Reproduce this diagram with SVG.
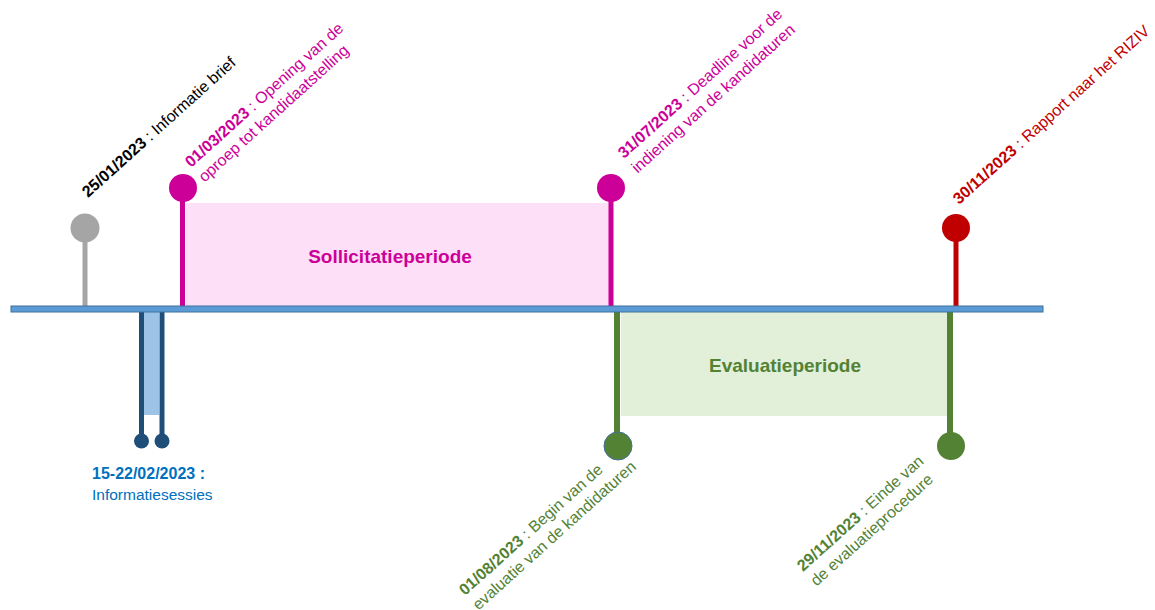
<svg xmlns="http://www.w3.org/2000/svg" width="1155" height="610" viewBox="0 0 1155 610">
<style>
text{font-family:"Liberation Sans",Arial,sans-serif}
.lbl{font-size:16px}
.b{font-weight:bold}
.mag{fill:#cc0099}
.grn{fill:#548235}
.red{fill:#c00000}
.blk{fill:#000}
.blu{fill:#0070c0}
</style>
<rect width="1155" height="610" fill="#fff"/>
<g id="periods">
<rect x="186" y="203" width="424" height="103" fill="#fde0f8"/>
<text x="390" y="263" text-anchor="middle" class="b mag" font-size="19">Sollicitatieperiode</text>
<rect x="621" y="312" width="327" height="104" fill="#e2f0d9"/>
<text x="785" y="372" text-anchor="middle" class="b grn" font-size="19">Evaluatieperiode</text>
<rect x="144" y="312" width="15" height="103" fill="#9dc3e6"/>
</g>
<g id="connectors">
<line x1="85" y1="240" x2="85" y2="306" stroke="#a5a5a5" stroke-width="5"/>
<line x1="182.5" y1="200" x2="182.5" y2="306" stroke="#cc0099" stroke-width="5"/>
<line x1="611" y1="200" x2="611" y2="306" stroke="#cc0099" stroke-width="5"/>
<line x1="956" y1="240" x2="956" y2="306" stroke="#c00000" stroke-width="5"/>
<line x1="141.5" y1="312" x2="141.5" y2="440" stroke="#1f4e79" stroke-width="5"/>
<line x1="162" y1="312" x2="162" y2="440" stroke="#1f4e79" stroke-width="5"/>
<line x1="617" y1="312" x2="617" y2="434" stroke="#548235" stroke-width="6"/>
<line x1="950" y1="312" x2="950" y2="434" stroke="#548235" stroke-width="6"/>
</g>
<g id="timeline">
<rect x="11" y="306" width="1032" height="6" fill="#5b9bd5" stroke="#41719c" stroke-width="1"/>
</g>
<g id="n-2501">
<circle cx="85" cy="228" r="14.5" fill="#a5a5a5"/>
<text class="lbl blk" transform="translate(88,198) rotate(-42)"><tspan class="b">25/01/2023</tspan> : Informatie brief</text>
</g>
<g id="n-0103">
<circle cx="183" cy="188" r="14" fill="#cc0099"/>
<text class="lbl mag" transform="translate(191,168) rotate(-42)"><tspan class="b">01/03/2023</tspan> : Opening van de<tspan x="0" dy="20">oproep tot kandidaatstelling</tspan></text>
</g>
<g id="n-3107">
<circle cx="611" cy="188" r="14" fill="#cc0099"/>
<text class="lbl mag" transform="translate(624,159) rotate(-42)"><tspan class="b">31/07/2023</tspan> : Deadline voor de<tspan x="0" dy="20">indiening van de kandidaturen</tspan></text>
</g>
<g id="n-3011">
<circle cx="956" cy="228" r="14" fill="#c00000"/>
<text class="lbl red" transform="translate(959,205) rotate(-42)"><tspan class="b">30/11/2023</tspan> : Rapport naar het RIZIV</text>
</g>
<g id="n-1522">
<circle cx="141.5" cy="441" r="7.5" fill="#1f4e79"/>
<circle cx="162" cy="441" r="7.5" fill="#1f4e79"/>
<text x="92" y="479" class="blu b" font-size="16">15-22/02/2023 :</text>
<text x="92" y="500" class="blu" font-size="15.5">Informatiesessies</text>
</g>
<g id="n-0108">
<circle cx="618" cy="446" r="14" fill="#548235" stroke="#41719c" stroke-width="1"/>
<text class="lbl grn" transform="translate(465,596) rotate(-42)"><tspan class="b">01/08/2023</tspan> : Begin van de<tspan x="0" dy="20">evaluatie van de kandidaturen</tspan></text>
</g>
<g id="n-2911">
<circle cx="951" cy="446" r="14" fill="#548235"/>
<text class="lbl grn" transform="translate(803,572) rotate(-42)"><tspan class="b">29/11/2023</tspan> : Einde van<tspan x="0" dy="20">de evaluatieprocedure</tspan></text>
</g>
</svg>
